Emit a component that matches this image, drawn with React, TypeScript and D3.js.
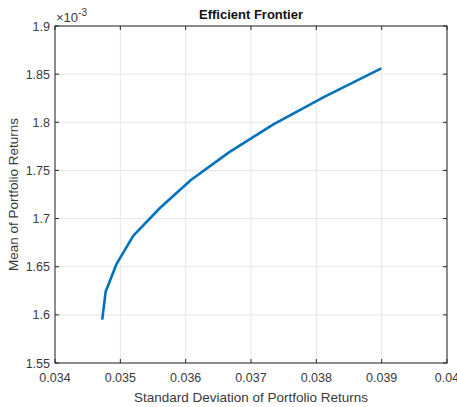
import React from "react";
import * as d3 from "d3";

const stdDev = [0.034723, 0.034775, 0.034943, 0.035197, 0.035606, 0.03608, 0.036668, 0.037349, 0.038136, 0.038995];
const meanRet = [1.595, 1.624, 1.653, 1.682, 1.711, 1.74, 1.769, 1.798, 1.827, 1.856];
const xTicks = [0.034, 0.035, 0.036, 0.037, 0.038, 0.039, 0.04];
const yTicks = [1.55, 1.6, 1.65, 1.7, 1.75, 1.8, 1.85, 1.9];

const W = 457, H = 407;
const m = { left: 55, right: 10, top: 26, bottom: 44 };

export default function App() {
  const x = d3.scaleLinear().domain([0.034, 0.04]).range([m.left, W - m.right]);
  const y = d3.scaleLinear().domain([1.55, 1.9]).range([H - m.bottom, m.top]);
  const line = d3.line<number>().x((_, i) => x(stdDev[i])).y((d) => y(d));
  const x0 = x.range()[0], x1 = x.range()[1], y0 = y.range()[0], y1 = y.range()[1];
  const axisCol = "#262626";
  const font = "Liberation Sans, Arial, sans-serif";
  const xFmt = (v: number) => (v === 0.04 ? "0.04" : v.toFixed(3));
  const yFmt = (v: number) => (Math.abs(v * 10 - Math.round(v * 10)) < 1e-9 ? v.toFixed(1) : v.toFixed(2));
  return (
    <svg width={W} height={H} style={{ position: "absolute", left: 0, top: 0, background: "#fff" }} fontFamily={font}>
      <rect x={0} y={0} width={W} height={H} fill="#fff" />
      {xTicks.map((t) => (
        <line key={"gx" + t} x1={x(t)} x2={x(t)} y1={y0} y2={y1} stroke="#e6e6e6" strokeWidth={1} />
      ))}
      {yTicks.map((t) => (
        <line key={"gy" + t} x1={x0} x2={x1} y1={y(t)} y2={y(t)} stroke="#e6e6e6" strokeWidth={1} />
      ))}
      <path d={line(meanRet) || ""} fill="none" stroke="#0072BD" strokeWidth={2.6} strokeLinejoin="round" />
      <rect x={x0} y={y1} width={x1 - x0} height={y0 - y1} fill="none" stroke={axisCol} strokeWidth={1} />
      {xTicks.map((t) => (
        <g key={"tx" + t}>
          <line x1={x(t)} x2={x(t)} y1={y0} y2={y0 - 4} stroke={axisCol} />
          <line x1={x(t)} x2={x(t)} y1={y1} y2={y1 + 4} stroke={axisCol} />
          <text x={x(t)} y={y0 + 19} textAnchor="middle" fontSize={12.5} fill="#3a3a3a">{xFmt(t)}</text>
        </g>
      ))}
      {yTicks.map((t) => (
        <g key={"ty" + t}>
          <line x1={x0} x2={x0 + 4} y1={y(t)} y2={y(t)} stroke={axisCol} />
          <line x1={x1} x2={x1 - 4} y1={y(t)} y2={y(t)} stroke={axisCol} />
          <text x={x0 - 5} y={y(t) + 4.5} textAnchor="end" fontSize={12.5} fill="#3a3a3a">{yFmt(t)}</text>
        </g>
      ))}
      <text x={x0 + 1} y={y1 - 4} fontSize={13} fill="#3a3a3a">
        ×10<tspan dy={-6} fontSize={10}>-3</tspan>
      </text>
      <text x={(x0 + x1) / 2} y={19} textAnchor="middle" fontSize={13} fontWeight="bold" fill="#111">Efficient Frontier</text>
      <text x={(x0 + x1) / 2} y={402} textAnchor="middle" fontSize={13.5} fill="#3a3a3a">Standard Deviation of Portfolio Returns</text>
      <text transform={`translate(18,${(y0 + y1) / 2}) rotate(-90)`} textAnchor="middle" fontSize={13.5} fill="#3a3a3a">Mean of Portfolio Returns</text>
    </svg>
  );
}
